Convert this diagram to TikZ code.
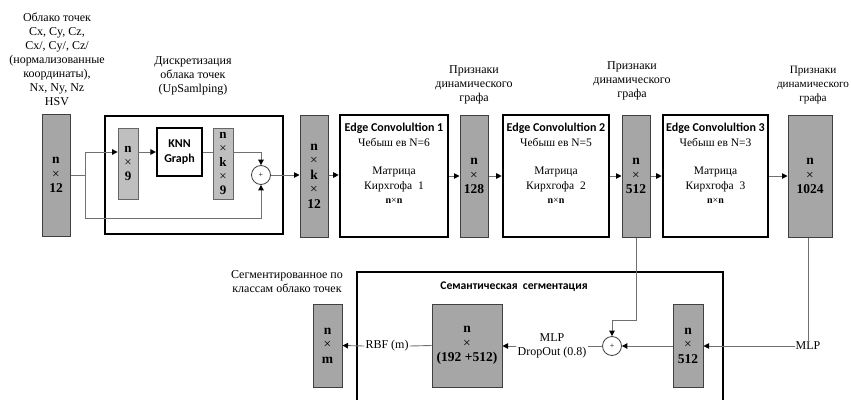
\documentclass[tikz,border=0pt]{standalone}
\usepackage{fontspec}
\setmainfont{Liberation Serif}
\newfontfamily\calib{Carlito}
\usetikzlibrary{arrows.meta}
\definecolor{boxfill}{HTML}{A6A6A6}
\definecolor{lightfill}{HTML}{BFBFBF}
\definecolor{boxline}{HTML}{404040}
\definecolor{wire}{HTML}{707070}
\tikzset{
  graybox/.style={draw=boxline, line width=1pt, fill=boxfill, minimum width=28pt, minimum height=122pt, inner sep=0pt, align=center, font=\fontsize{13.5}{14.5}\selectfont},
  lightbox/.style={draw=boxline!80, line width=0.8pt, fill=lightfill, minimum width=20pt, minimum height=71pt, inner sep=0pt, align=center, font=\fontsize{13}{13.8}\selectfont},
  thickbox/.style={draw=black, line width=2.6pt, inner sep=0pt},
  convbox/.style={thickbox, minimum height=122pt},
  wireline/.style={draw=wire, line width=0.9pt},
  arr/.style={wireline, -{Triangle[black, width=5.5pt, length=5.5pt]}},
  sumnode/.style={circle, draw=boxline, line width=0.8pt, fill=white, minimum size=19pt, inner sep=0pt, font=\fontsize{8}{9}\selectfont},
  lbl/.style={align=center, font=\fontsize{12}{14}\selectfont, inner sep=0pt},
  convtxt/.style={align=center, inner sep=0pt, font=\fontsize{11.5}{14.5}\selectfont},
}
\newcommand{\nxn}{{\fontsize{10}{11}\selectfont\textbf{n}×\textbf{n}}}
\newcommand{\convheadfont}{\calib\bfseries\fontsize{12}{14}\selectfont}
\begin{document}
\begin{tikzpicture}[x=1pt, y=-1pt]
\useasboundingbox (0,0) rectangle (851,399);
\clip (0,0) rectangle (851,399);
% top-left labels
\node[lbl] (inlbl) at (57,59.5) {Облако точек\\Cx, Cy, Cz,\\Cx/, Cy/, Cz/\\(нормализованные\\координаты),\\Nx, Ny, Nz\\HSV};
\node[lbl] (disclbl) at (193,76) {Дискретизация\\облака точек\\(UpSamlping)};
% input
\node[graybox] (in) at (56,175) {\textbf{n}\\×\\\textbf{12}};
% discretization block
\node[thickbox, minimum width=178pt, minimum height=118pt] (disc) at (194,175) {};
\node[lightbox] (b9) at (128,163.5) {\textbf{n}\\×\\\textbf{9}};
\node[thickbox, line width=2.2pt, fill=white, minimum width=45pt, minimum height=48pt, align=center, font=\calib\bfseries\fontsize{12}{15}\selectfont] (knn) at (179.5,152) {KNN\\Graph};
\node[lightbox] (bk9) at (223,163.5) {\textbf{n}\\×\\\textbf{k}\\×\\\textbf{9}};
\node[sumnode] (plus1) at (261,175) {+};
\coordinate (split) at (85,175);
\draw[wireline] (in.east) -- (split);
\draw[arr] (split) |- (b9.west |- knn.west);
\draw[arr] (split) |- (plus1.south |- 0,218) -- (plus1.south);
\draw[arr] (b9.east |- knn.west) -- (knn.west);
\draw[wireline] (knn.east) -- (bk9.west |- knn.east);
\draw[arr] (bk9.east |- knn.east) -| (plus1.north);
% main chain
\node[graybox] (bk12) at (314,176) {\textbf{n}\\×\\\textbf{k}\\×\\\textbf{12}};
\draw[arr] (plus1.east) -- (bk12.west |- plus1.east);
\node[convbox, minimum width=108pt] (ec1) at (394,176) {};
\node[convtxt, anchor=north] (ec1t) at (394,123) {{\convheadfont Edge Convolultion 1}\\Чебыш ев N=6\\[14pt]Матрица\\Кирхгофа~~1\\\nxn};
\draw[arr] (bk12.east |- plus1.east) -- (ec1.west |- plus1.east);
\node[graybox] (b128) at (474,176) {\textbf{n}\\×\\\textbf{128}};
\node[lbl] (l128) at (474,85) {Признаки\\динамического\\графа};
\draw[arr] (ec1.east) -- (b128.west);
\node[convbox, minimum width=106pt] (ec2) at (556,176) {};
\node[convtxt, anchor=north] (ec2t) at (556,123) {{\convheadfont Edge Convolultion 2}\\Чебыш ев N=5\\[14pt]Матрица\\Кирхгофа~~2\\\nxn};
\draw[arr] (b128.east) -- (ec2.west);
\node[graybox] (b512) at (636,176) {\textbf{n}\\×\\\textbf{512}};
\node[lbl] (l512) at (632,81) {Признаки\\динамического\\графа};
\draw[arr] (ec2.east) -- (b512.west);
\node[convbox, minimum width=105pt] (ec3) at (715.5,176) {};
\node[convtxt, anchor=north] (ec3t) at (715.5,123) {{\convheadfont Edge Convolultion 3}\\Чебыш ев N=3\\[14pt]Матрица\\Кирхгофа~~3\\\nxn};
\draw[arr] (b512.east) -- (ec3.west);
\node[graybox, minimum width=44pt] (b1024) at (810,176) {\textbf{n}\\×\\\textbf{1024}};
\node[lbl, font=\fontsize{11.2}{14}\selectfont] (l1024) at (813,85) {Признаки\\динамического\\графа};
\draw[arr] (ec3.east) -- (b1024.west);
% segmentation block
\draw[line width=2.6pt] (357,405) -- (357,272) -- (723,272) -- (723,405);
\node[font=\calib\bfseries\fontsize{11.7}{14}\selectfont, inner sep=0pt] (segt) at (514,287) {Семантическая\ \ сегментация};
\node[lbl] (outlbl) at (287,282) {Сегментированное по\\классам облако точек};
\node[graybox, minimum width=29pt, minimum height=83pt] (bm) at (327.5,345.5) {\textbf{n}\\×\\\textbf{m}};
\node[graybox, minimum width=70pt, minimum height=83pt] (b704) at (467,345.5) {\textbf{n}\\×\\\textbf{(192 +512)}};
\node[sumnode] (plus2) at (612,346) {+};
\node[graybox, minimum width=30pt, minimum height=83pt] (b512b) at (688,345.5) {\textbf{n}\\×\\\textbf{512}};
\node[lbl, fill=white, inner xsep=1pt] (rbf) at (387,346) {RBF (m)};
\node[lbl, fill=white, inner xsep=1pt] (mlpd) at (552,346) {MLP\\DropOut (0.8)};
\node[lbl, fill=white, inner xsep=0pt] (mlp) at (808,346) {MLP};
\draw[wireline] (b704.west) -- (rbf.east);
\draw[arr] (rbf.west) -- (bm.east);
\draw[wireline] (plus2.west) -- (mlpd.east |- plus2.west);
\draw[arr] (mlpd.west |- plus2.west) -- (b704.east |- plus2.west);
\draw[arr] (b512b.west |- plus2.east) -- (plus2.east);
\draw[wireline] (b1024.south -| mlp.north) -- (mlp.north);
\draw[arr] (mlp.west) -- (b512b.east |- mlp.west);
\draw[arr] (b512.south) |- (plus2.north |- 0,320) -- (plus2.north);
\end{tikzpicture}
\end{document}
